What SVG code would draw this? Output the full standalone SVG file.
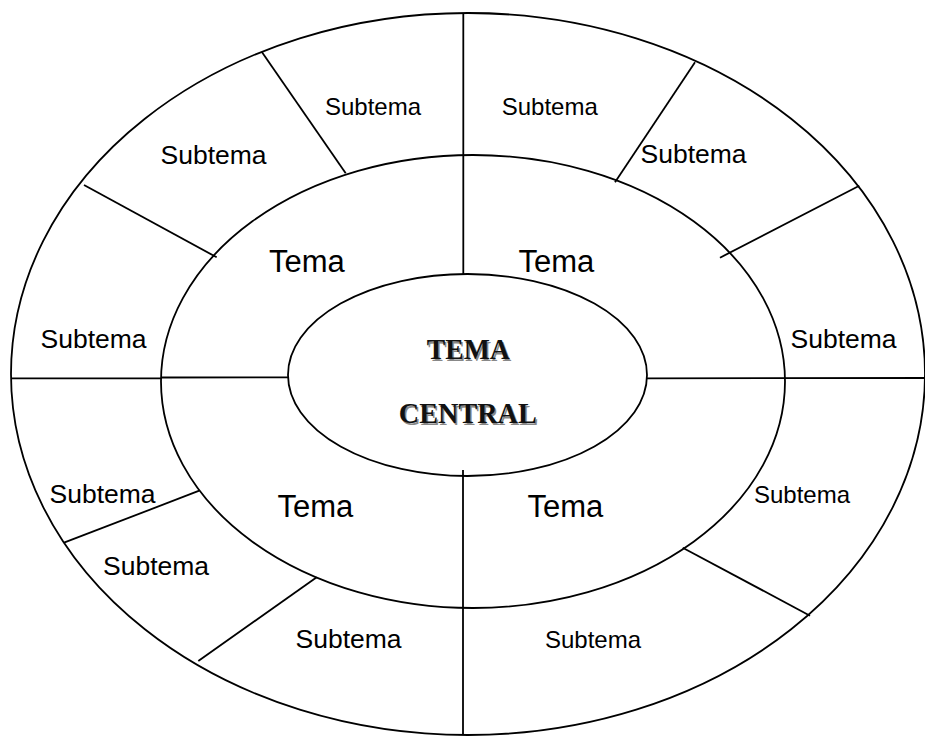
<svg xmlns="http://www.w3.org/2000/svg" width="925" height="736" viewBox="0 0 925 736">
  <style>
    .ring { fill: none; stroke: #000; stroke-width: 1.8; }
    .div { stroke: #000; stroke-width: 1.8; fill: none; }
    .sub { font-family: "Liberation Sans", Arial, sans-serif; fill: #000; }
    .big { font-size: 26.5px; }
    .small { font-size: 24px; }
    .tema { font-family: "Liberation Sans", Arial, sans-serif; font-size: 31px; fill: #000; }
    .central { font-family: "Liberation Serif", "Times New Roman", serif; font-weight: bold; font-size: 29px; text-anchor: middle; }
  </style>
  <rect width="925" height="736" fill="#fff"/>

  <!-- rings -->
  <g id="outer-ring"><ellipse class="ring" cx="468" cy="374" rx="457" ry="361"/></g>
  <g id="middle-ring"><ellipse class="ring" cx="473" cy="381.5" rx="312" ry="226.5"/></g>

  <!-- connectors: dividing lines between sectors -->
  <g id="connectors">
    <line class="div" x1="463.3" y1="13" x2="463.3" y2="274"/>
    <line class="div" x1="463" y1="470" x2="463" y2="734"/>
    <line class="div" x1="11" y1="378.3" x2="161" y2="378.3"/>
    <line class="div" x1="161" y1="377.5" x2="289" y2="377.3"/>
    <line class="div" x1="647" y1="378.3" x2="925" y2="378"/>
    <line class="div" x1="261.7" y1="51.7" x2="345.7" y2="173.3"/>
    <line class="div" x1="84" y1="185" x2="216.7" y2="257.3"/>
    <line class="div" x1="695" y1="62.3" x2="615" y2="182.3"/>
    <line class="div" x1="859.3" y1="185.7" x2="720" y2="257.7"/>
    <line class="div" x1="64" y1="542.7" x2="199.3" y2="490.7"/>
    <line class="div" x1="198.3" y1="661" x2="316.7" y2="577.3"/>
    <line class="div" x1="682.7" y1="547.7" x2="810" y2="615.7"/>
  </g>

  <!-- central topic -->
  <g id="tema-central">
    <ellipse class="ring" cx="467.5" cy="375" rx="179.5" ry="101" fill="#fff"/>
    <g fill="#888" transform="translate(1.5,1.5)">
      <text class="central" x="468.3" y="359.3" textLength="83" lengthAdjust="spacingAndGlyphs">TEMA</text>
      <text class="central" x="467.8" y="423.3" textLength="138" lengthAdjust="spacingAndGlyphs">CENTRAL</text>
    </g>
    <g fill="#111">
      <text class="central" x="468.3" y="359.3" textLength="83" lengthAdjust="spacingAndGlyphs">TEMA</text>
      <text class="central" x="467.8" y="423.3" textLength="138" lengthAdjust="spacingAndGlyphs">CENTRAL</text>
    </g>
  </g>

  <!-- topics -->
  <g id="tema-nw"><text class="tema" x="269" y="272">Tema</text></g>
  <g id="tema-ne"><text class="tema" x="518.5" y="272">Tema</text></g>
  <g id="tema-sw"><text class="tema" x="277.5" y="517">Tema</text></g>
  <g id="tema-se"><text class="tema" x="527.5" y="517">Tema</text></g>

  <!-- subtopics -->
  <g id="subtema-1"><text class="sub small" x="325" y="115">Subtema</text></g>
  <g id="subtema-2"><text class="sub big" x="160.5" y="164">Subtema</text></g>
  <g id="subtema-3"><text class="sub big" x="40.5" y="348.3">Subtema</text></g>
  <g id="subtema-4"><text class="sub small" x="501.7" y="115">Subtema</text></g>
  <g id="subtema-5"><text class="sub big" x="640.5" y="163.3">Subtema</text></g>
  <g id="subtema-6"><text class="sub big" x="790.5" y="348.3">Subtema</text></g>
  <g id="subtema-7"><text class="sub big" x="49.5" y="503.3">Subtema</text></g>
  <g id="subtema-8"><text class="sub big" x="103" y="575">Subtema</text></g>
  <g id="subtema-9"><text class="sub big" x="295.5" y="648.3">Subtema</text></g>
  <g id="subtema-10"><text class="sub small" x="754" y="503.3">Subtema</text></g>
  <g id="subtema-11"><text class="sub small" x="545" y="648.3">Subtema</text></g>
</svg>
